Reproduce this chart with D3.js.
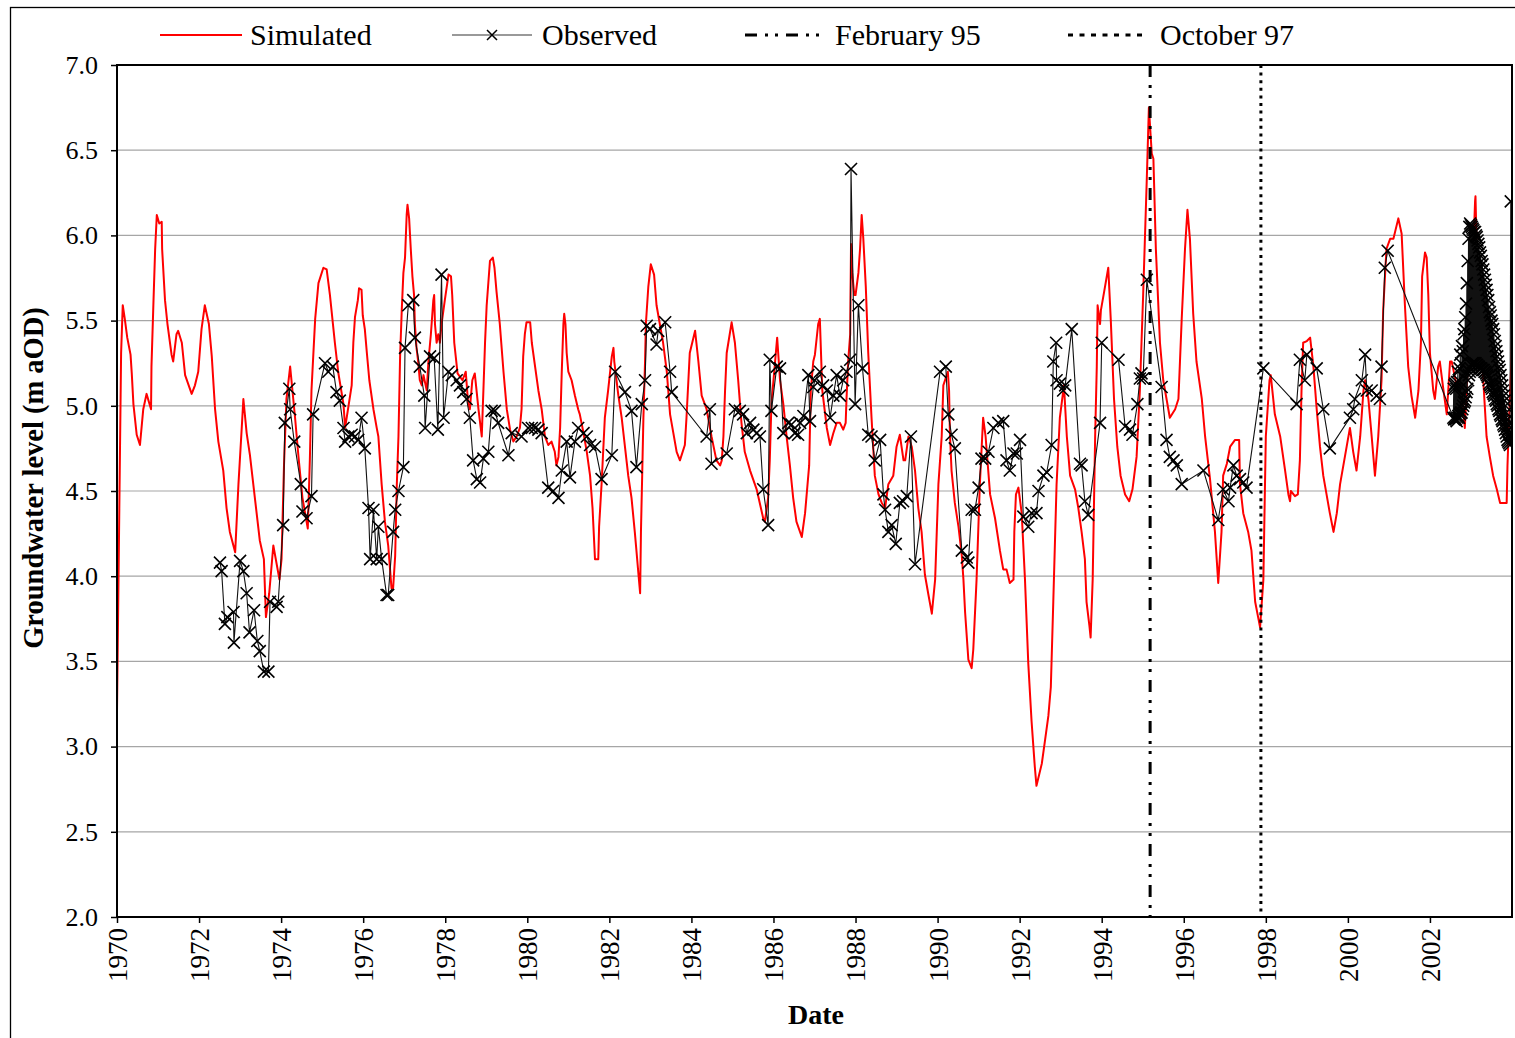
<!DOCTYPE html>
<html><head><meta charset="utf-8">
<script src="https://cdn.jsdelivr.net/npm/d3@7"></script>
<style>
body{margin:0;background:#fff}
svg{display:block}
text{font-family:"Liberation Serif","Times New Roman",serif;fill:#000}
</style>
</head><body>
<svg id="chart" width="1515" height="1038"></svg>
<script>
// ---- Data (decimal year, groundwater level m aOD) ----
const simulated = [
[1970.00,3.21],[1970.10,5.31],[1970.14,5.59],[1970.19,5.51],[1970.25,5.40],[1970.33,5.30],[1970.36,5.19],[1970.40,5.01],[1970.48,4.83],[1970.56,4.77],[1970.64,4.98],[1970.72,5.07],[1970.83,4.98],[1970.84,5.23],[1970.89,5.62],[1970.93,5.92],[1970.97,6.12],[1971.03,6.07],[1971.09,6.08],[1971.10,5.92],[1971.17,5.62],[1971.23,5.48],[1971.33,5.30],[1971.37,5.26],[1971.45,5.42],[1971.49,5.44],[1971.58,5.37],[1971.66,5.18],[1971.82,5.07],[1971.90,5.12],[1971.98,5.20],[1972.06,5.45],[1972.14,5.59],[1972.24,5.48],[1972.31,5.29],[1972.39,4.98],[1972.47,4.79],[1972.59,4.62],[1972.67,4.40],[1972.75,4.26],[1972.88,4.14],[1972.96,4.54],[1973.04,4.87],[1973.08,5.04],[1973.16,4.84],[1973.24,4.71],[1973.36,4.46],[1973.48,4.21],[1973.58,4.10],[1973.63,3.76],[1973.71,3.90],[1973.81,4.18],[1973.96,3.98],[1974.01,4.10],[1974.07,4.65],[1974.13,5.04],[1974.22,5.23],[1974.34,4.93],[1974.42,4.71],[1974.52,4.46],[1974.65,4.28],[1974.70,4.68],[1974.74,5.09],[1974.83,5.51],[1974.91,5.72],[1975.03,5.81],[1975.11,5.80],[1975.19,5.65],[1975.31,5.37],[1975.39,5.20],[1975.52,5.01],
[1975.56,4.87],[1975.72,5.12],[1975.76,5.37],[1975.80,5.52],[1975.87,5.62],[1975.90,5.69],[1975.96,5.68],[1975.99,5.53],[1976.04,5.45],[1976.09,5.31],[1976.15,5.15],[1976.25,4.98],[1976.33,4.87],[1976.37,4.82],[1976.45,4.54],[1976.53,4.32],[1976.61,4.18],[1976.69,3.93],[1976.73,3.93],[1976.78,4.12],[1976.82,4.54],[1976.86,4.82],[1976.90,5.29],[1976.94,5.56],[1976.98,5.78],[1977.02,5.87],[1977.06,6.12],[1977.08,6.18],[1977.12,6.10],[1977.16,5.92],[1977.20,5.76],[1977.24,5.65],[1977.26,5.48],[1977.30,5.34],[1977.34,5.26],[1977.38,5.15],[1977.43,5.12],[1977.47,5.18],[1977.55,5.09],[1977.59,5.26],[1977.65,5.42],[1977.71,5.62],[1977.73,5.65],[1977.75,5.48],[1977.79,5.37],[1977.83,5.42],[1977.87,5.37],[1977.91,5.48],[1977.99,5.62],[1978.08,5.77],[1978.14,5.76],[1978.17,5.65],[1978.22,5.37],[1978.30,5.19],[1978.42,5.15],[1978.50,5.20],[1978.56,5.01],[1978.60,4.98],[1978.66,5.15],[1978.72,5.19],[1978.81,4.98],[1978.89,4.82],[1978.93,5.09],[1978.97,5.37],[1979.01,5.59],[1979.09,5.85],[1979.16,5.87],[1979.20,5.81],[1979.25,5.67],[1979.33,5.48],[1979.42,5.20],[1979.50,4.98],[1979.58,4.86],[1979.66,4.79],[1979.74,4.82],[1979.82,4.87],[1979.86,4.98],[1979.90,5.29],[1979.94,5.42],[1979.98,5.49],[1980.07,5.49],[1980.11,5.37],[1980.19,5.23],[1980.27,5.09],[1980.35,4.98],[1980.43,4.82],[1980.51,4.77],[1980.59,4.79],[1980.67,4.73],[1980.71,4.65],[1980.76,4.70],[1980.80,4.87],[1980.84,5.20],[1980.88,5.48],[1980.90,5.54],[1980.93,5.48],[1980.96,5.31],[1981.00,5.20],[1981.08,5.15],[1981.16,5.06],[1981.24,4.98],
[1981.28,4.95],[1981.37,4.84],[1981.45,4.73],[1981.53,4.59],[1981.59,4.40],[1981.65,4.10],[1981.73,4.10],[1981.75,4.29],[1981.81,4.54],[1981.89,4.93],[1981.97,5.09],[1982.06,5.29],[1982.10,5.34],[1982.12,5.26],[1982.22,5.06],[1982.30,4.93],[1982.38,4.76],[1982.46,4.59],[1982.54,4.46],[1982.62,4.26],[1982.66,4.15],[1982.71,4.01],[1982.75,3.90],[1982.77,4.26],[1982.80,4.59],[1982.83,4.93],[1982.87,5.26],[1982.89,5.48],[1982.95,5.70],[1983.01,5.83],[1983.09,5.77],[1983.15,5.59],[1983.23,5.48],[1983.31,5.37],[1983.40,5.20],[1983.48,4.95],[1983.56,4.84],[1983.64,4.73],[1983.72,4.68],[1983.84,4.77],[1983.88,4.93],[1983.96,5.31],[1984.09,5.44],[1984.17,5.26],[1984.25,5.06],[1984.37,4.98],[1984.49,4.82],[1984.61,4.68],[1984.70,4.65],[1984.74,4.68],[1984.78,4.82],[1984.82,5.09],[1984.86,5.31],[1984.98,5.49],[1985.06,5.37],[1985.14,5.15],[1985.22,4.90],[1985.30,4.73],[1985.43,4.62],[1985.59,4.51],[1985.75,4.34],[1985.79,4.32],[1985.87,4.46],[1985.91,4.68],[1985.95,5.01],[1986.04,5.26],[1986.09,5.40],[1986.16,5.15],[1986.24,5.01],[1986.32,4.82],[1986.40,4.65],[1986.48,4.46],[1986.56,4.32],[1986.69,4.23],[1986.77,4.37],[1986.87,4.65],[1986.91,5.09],[1986.97,5.26],[1987.01,5.30],
[1987.09,5.48],[1987.13,5.51],[1987.19,5.09],[1987.30,4.87],[1987.38,4.77],[1987.46,4.84],[1987.54,4.90],[1987.62,4.90],[1987.70,4.86],[1987.76,4.90],[1987.78,5.04],[1987.82,5.26],[1987.87,5.42],[1987.89,5.95],[1987.92,5.78],[1987.97,5.65],[1988.00,5.65],[1988.07,5.78],[1988.11,5.92],[1988.15,6.12],[1988.19,5.98],[1988.25,5.70],[1988.31,5.31],[1988.39,4.93],[1988.47,4.59],[1988.56,4.48],[1988.64,4.43],[1988.72,4.40],[1988.80,4.54],[1988.92,4.59],[1989.00,4.76],[1989.08,4.83],[1989.17,4.68],[1989.21,4.68],[1989.29,4.82],[1989.37,4.76],[1989.45,4.62],[1989.53,4.40],[1989.61,4.26],[1989.69,4.01],[1989.77,3.90],[1989.86,3.78],[1989.94,3.98],[1989.98,4.26],[1990.02,4.54],[1990.10,4.82],[1990.14,5.12],[1990.25,5.20],[1990.28,5.09],[1990.30,4.84],[1990.34,4.62],[1990.42,4.43],[1990.51,4.29],[1990.59,4.12],[1990.63,3.98],[1990.67,3.79],[1990.75,3.51],[1990.83,3.46],[1990.87,3.57],[1990.95,3.98],[1991.03,4.54],[1991.11,4.93],[1991.17,4.82],[1991.28,4.48],[1991.40,4.34],[1991.52,4.15],[1991.60,4.04],[1991.68,4.04],[1991.76,3.96],[1991.85,3.98],[1991.87,4.26],[1991.91,4.48],[1991.97,4.52],[1992.05,4.37],[1992.13,3.98],[1992.21,3.49],[1992.29,3.15],[1992.37,2.88],[1992.41,2.77],[1992.46,2.82],[1992.54,2.90],[1992.62,3.04],[1992.70,3.18],
[1992.76,3.35],[1992.82,3.85],[1992.90,4.54],[1992.98,4.93],[1993.08,5.12],[1993.15,4.82],[1993.23,4.59],[1993.35,4.51],[1993.43,4.40],[1993.51,4.26],[1993.59,4.10],[1993.63,3.85],[1993.70,3.71],[1993.73,3.64],[1993.78,3.98],[1993.84,4.82],[1993.88,5.23],[1993.90,5.59],[1993.96,5.48],[1993.98,5.56],[1994.06,5.67],[1994.16,5.81],[1994.22,5.51],[1994.30,5.04],[1994.38,4.76],[1994.46,4.59],[1994.57,4.48],[1994.67,4.44],[1994.75,4.51],[1994.85,4.70],[1994.93,5.09],[1995.01,5.65],[1995.10,6.34],[1995.15,6.75],[1995.22,6.48],[1995.26,6.45],[1995.32,5.92],[1995.42,5.37],[1995.50,5.15],[1995.58,5.04],[1995.66,4.93],[1995.79,4.98],[1995.87,5.04],[1995.95,5.51],[1996.03,5.92],[1996.09,6.15],[1996.15,5.98],[1996.23,5.54],[1996.31,5.26],[1996.44,5.04],[1996.52,4.82],[1996.64,4.57],[1996.76,4.26],[1996.84,3.96],[1996.92,4.26],[1996.96,4.59],[1997.05,4.66],[1997.13,4.76],[1997.25,4.80],[1997.35,4.80],[1997.37,4.54],[1997.45,4.37],[1997.57,4.26],[1997.65,4.15],[1997.74,3.85],[1997.86,3.70],[1997.94,3.98],[1998.00,4.82],[1998.09,5.15],[1998.12,5.18],[1998.22,4.95],[1998.35,4.82],[1998.47,4.62],
[1998.55,4.48],[1998.59,4.44],[1998.61,4.50],[1998.71,4.47],[1998.78,4.48],[1998.83,4.68],[1998.87,5.09],[1998.91,5.37],[1999.00,5.38],[1999.08,5.40],[1999.16,5.23],[1999.24,4.98],[1999.32,4.76],[1999.40,4.59],[1999.48,4.48],[1999.56,4.37],[1999.65,4.26],[1999.73,4.37],[1999.81,4.54],[1999.89,4.65],[1999.97,4.76],[2000.05,4.87],[2000.13,4.73],[2000.21,4.62],[2000.30,4.82],[2000.38,5.09],[2000.42,5.15],[2000.50,5.04],[2000.58,4.82],[2000.66,4.59],[2000.74,4.82],[2000.82,5.15],[2000.86,5.56],[2000.94,5.92],[2001.03,5.98],[2001.11,5.98],[2001.23,6.10],[2001.31,6.01],[2001.39,5.59],[2001.47,5.23],[2001.55,5.06],[2001.64,4.93],[2001.72,5.09],[2001.78,5.37],[2001.81,5.76],[2001.88,5.90],[2001.92,5.87],[2001.96,5.65],[2002.00,5.31],[2002.08,5.09],[2002.12,5.04],[2002.20,5.23],[2002.24,5.26],[2002.33,5.09],[2002.41,4.95],[2002.49,5.26],[2002.53,5.26],[2002.65,5.12],[2002.69,5.04],[2002.77,5.09],[2002.85,4.87],[2002.93,5.26],[2003.02,5.65],[2003.10,6.20],[2003.11,6.23],[2003.14,5.92],[2003.22,5.48],[2003.30,5.15],[2003.38,4.82],[2003.46,4.70],[2003.54,4.59],[2003.63,4.51],[2003.71,4.43],[2003.83,4.43],[2003.87,4.43],[2003.89,4.65],[2003.93,4.93],[2003.98,5.23],[2004.00,5.40]
];

const observed = [
[1972.51,4.08],[1972.55,4.03],[1972.63,3.72],[1972.69,3.76],[1972.84,3.79],[1972.85,3.61],[1973.00,4.09],[1973.08,4.03],[1973.16,3.90],[1973.23,3.67],[1973.34,3.80],[1973.42,3.62],[1973.48,3.56],[1973.58,3.44],[1973.69,3.44],[1973.73,3.85],[1973.89,3.82],[1973.93,3.85],[1974.05,4.30],[1974.09,4.90],[1974.20,5.10],[1974.22,4.98],[1974.32,4.79],[1974.48,4.54],[1974.52,4.38],[1974.62,4.34],[1974.74,4.47],[1974.78,4.95],[1975.07,5.25],[1975.15,5.20],[1975.26,5.23],[1975.35,5.08],[1975.43,5.03],[1975.52,4.87],[1975.56,4.79],
[1975.64,4.82],[1975.72,4.83],[1975.80,4.82],[1975.88,4.80],[1975.96,4.93],[1976.04,4.75],[1976.13,4.40],[1976.17,4.10],[1976.25,4.39],[1976.33,4.10],[1976.37,4.29],[1976.45,4.10],[1976.57,3.89],[1976.61,3.89],[1976.73,4.26],[1976.78,4.39],[1976.86,4.50],[1976.98,4.64],[1977.02,5.34],[1977.10,5.59],[1977.22,5.62],[1977.26,5.40],[1977.38,5.23],[1977.49,5.06],[1977.51,4.87],[1977.63,5.29],[1977.73,5.28],[1977.82,4.86],[1977.91,5.77],[1977.96,4.93],[1978.08,5.20],[1978.16,5.18],[1978.28,5.15],[1978.36,5.12],[1978.44,5.08],[1978.52,5.04],[1978.60,4.93],[1978.68,4.68],[1978.77,4.57],[1978.85,4.55],[1978.93,4.69],[1979.05,4.73],[1979.13,4.97],[1979.21,4.97],[1979.29,4.90],[1979.54,4.71],[1979.62,4.84],[1979.86,4.82],[1980.02,4.87],[1980.11,4.87],[1980.19,4.87],[1980.27,4.86],[1980.35,4.84],[1980.51,4.52],[1980.63,4.50],[1980.76,4.46],[1980.84,4.62],[1980.96,4.79],[1981.04,4.58],[1981.16,4.79],[1981.24,4.87],
[1981.37,4.84],[1981.45,4.82],[1981.53,4.77],[1981.65,4.76],[1981.81,4.57],[1982.06,4.71],[1982.14,5.20],[1982.38,5.08],[1982.54,4.97],[1982.66,4.64],[1982.79,5.01],[1982.87,5.15],[1982.91,5.47],[1982.99,5.45],[1983.15,5.36],[1983.19,5.44],[1983.36,5.49],[1983.48,5.20],[1983.52,5.08],[1984.37,4.82],[1984.45,4.98],[1984.49,4.66],[1984.86,4.72],[1985.06,4.98],[1985.18,4.97],[1985.26,4.95],[1985.35,4.84],[1985.43,4.90],[1985.51,4.86],[1985.59,4.84],[1985.67,4.82],[1985.75,4.51],[1985.87,4.30],[1985.91,5.27],[1985.95,4.97],[1986.08,5.23],[1986.16,5.22],[1986.24,4.84],[1986.36,4.90],[1986.44,4.89],[1986.52,4.84],[1986.60,4.83],[1986.65,4.90],[1986.73,4.94],[1986.85,5.18],[1986.89,4.91],[1986.97,5.11],
[1987.01,5.15],[1987.13,5.20],[1987.21,5.12],[1987.30,5.09],[1987.38,4.93],[1987.46,5.06],[1987.54,5.18],[1987.62,5.06],[1987.70,5.15],[1987.78,5.20],[1987.87,5.27],[1987.89,6.39],[1987.99,5.01],[1988.07,5.59],[1988.17,5.22],[1988.31,4.83],[1988.39,4.82],[1988.47,4.68],[1988.60,4.80],[1988.68,4.48],[1988.72,4.39],[1988.80,4.26],[1988.88,4.30],[1988.98,4.19],[1989.08,4.43],[1989.16,4.44],[1989.25,4.47],[1989.35,4.82],[1989.45,4.07],[1990.06,5.20],[1990.20,5.23],[1990.26,4.95],[1990.34,4.83],[1990.42,4.75],[1990.59,4.15],[1990.71,4.11],[1990.75,4.08],[1990.83,4.39],[1990.91,4.39],[1991.00,4.52],[1991.07,4.69],[1991.16,4.69],[1991.24,4.73],[1991.36,4.87],[1991.48,4.90],[1991.60,4.91],[1991.68,4.68],[1991.76,4.62],[1991.85,4.72],[1991.93,4.72],[1992.01,4.80],[1992.09,4.35],[1992.21,4.29],[1992.29,4.37],[1992.41,4.37],[1992.46,4.50],[1992.58,4.59],[1992.66,4.61],
[1992.78,4.77],[1992.82,5.26],[1992.89,5.37],[1992.90,5.15],[1992.98,5.13],[1993.06,5.09],[1993.11,5.12],[1993.27,5.45],[1993.47,4.66],[1993.51,4.65],[1993.59,4.44],[1993.67,4.36],[1993.96,4.90],[1994.00,5.37],[1994.41,5.27],[1994.57,4.88],[1994.69,4.86],[1994.75,4.83],[1994.87,5.01],[1994.93,5.16],[1994.97,5.19],[1995.01,5.16],[1995.10,5.74],[1995.46,5.11],[1995.58,4.80],[1995.66,4.70],[1995.75,4.68],[1995.83,4.65],[1995.95,4.54],[1996.48,4.62],[1996.84,4.33],[1996.96,4.51],[1997.09,4.44],[1997.13,4.52],[1997.21,4.65],[1997.29,4.59],[1997.37,4.57],[1997.45,4.55],[1997.53,4.52],[1997.94,5.22],
[1998.75,5.01],[1998.83,5.27],[1998.95,5.15],[1999.00,5.30],[1999.24,5.22],[1999.40,4.98],[1999.56,4.75],[2000.05,4.93],[2000.13,4.98],[2000.17,5.04],[2000.34,5.15],[2000.42,5.30],[2000.46,5.09],[2000.58,5.09],[2000.70,5.06],[2000.78,5.04],[2000.82,5.23],[2000.90,5.81],[2000.97,5.91],
[2002.57,4.93],[2002.58,5.10],[2002.59,4.92],[2002.60,5.12],[2002.61,4.93],[2002.62,5.13],[2002.63,4.92],[2002.64,5.10],[2002.65,4.91],[2002.66,5.14],[2002.67,4.93],[2002.68,5.20],[2002.69,4.94],[2002.70,5.15],[2002.71,4.93],[2002.72,5.22],[2002.73,4.95],[2002.74,5.30],[2002.75,4.96],[2002.76,5.25],[2002.77,4.96],[2002.78,5.35],[2002.79,4.98],[2002.80,5.32],
[2002.81,5.00],[2002.82,5.42],[2002.83,5.02],[2002.84,5.45],[2002.85,5.03],[2002.86,5.52],[2002.87,5.05],[2002.88,5.60],[2002.89,5.08],[2002.90,5.72],[2002.91,5.10],[2002.92,5.85],[2002.93,5.15],[2002.94,5.98],[2002.95,5.18],[2002.96,6.05],[2002.97,5.20],[2002.98,6.07],[2002.99,5.22],[2003.00,6.06],[2003.01,5.24],[2003.02,6.05],[2003.03,5.25],[2003.04,6.04],[2003.05,5.25],[2003.06,6.03],[2003.07,5.25],[2003.08,6.02],
[2003.09,5.25],[2003.10,6.02],[2003.11,5.25],[2003.12,6.00],[2003.13,5.24],[2003.14,5.99],[2003.15,5.24],[2003.16,5.97],[2003.17,5.23],[2003.18,5.95],[2003.19,5.23],[2003.20,5.93],[2003.21,5.22],[2003.22,5.90],[2003.23,5.22],[2003.24,5.88],[2003.25,5.22],[2003.26,5.85],[2003.27,5.21],[2003.28,5.83],[2003.29,5.21],[2003.30,5.80],[2003.31,5.21],[2003.32,5.77],[2003.33,5.20],[2003.34,5.74],[2003.35,5.20],[2003.36,5.71],[2003.37,5.19],[2003.38,5.68],[2003.39,5.18],[2003.40,5.65],[2003.41,5.17],[2003.42,5.62],[2003.43,5.15],[2003.44,5.58],[2003.45,5.13],[2003.46,5.55],[2003.47,5.12],[2003.48,5.53],[2003.49,5.11],[2003.50,5.50],[2003.51,5.10],[2003.52,5.48],[2003.53,5.08],[2003.54,5.45],[2003.55,5.07],[2003.56,5.42],[2003.57,5.06],[2003.58,5.38],[2003.59,5.04],[2003.60,5.35],[2003.61,5.03],[2003.62,5.32],[2003.63,5.01],[2003.64,5.29],[2003.65,5.00],[2003.66,5.26],[2003.67,4.98],[2003.68,5.23],[2003.69,4.97],[2003.70,5.21],[2003.71,4.95],[2003.72,5.18],[2003.73,4.94],[2003.74,5.15],[2003.75,4.92],[2003.76,5.12],[2003.77,4.91],[2003.78,5.09],[2003.79,4.89],[2003.80,5.06],[2003.81,4.88],[2003.82,5.03],[2003.83,4.86],[2003.84,5.00],[2003.85,4.84],[2003.86,4.96],[2003.87,4.82],[2003.88,4.92],[2003.89,4.80],[2003.90,4.89],[2003.91,4.79],[2003.92,4.86],[2003.93,4.78],[2003.94,4.83],[2003.95,4.77],[2003.97,6.20]
];

const eventNames = ["February 95", "October 97"];
const eventDates = [1995.18, 1997.88];
const yTickValues = [2.0, 2.5, 3.0, 3.5, 4.0, 4.5, 5.0, 5.5, 6.0, 6.5, 7.0];
const xTickValues = [1970,1972,1974,1976,1978,1980,1982,1984,1986,1988,1990,1992,1994,1996,1998,2000,2002];
const legendLabels = ["Simulated", "Observed", "February 95", "October 97"];
const xTitle = "Date";
const yTitle = "Groundwater level (m aOD)";

// ---- Layout ----
const plot = {left:117, right:1512, top:65, bottom:917};
const svg = d3.select("#chart");
const x = d3.scaleLinear().domain([1970, 2004]).range([plot.left, plot.right]);
const y = d3.scaleLinear().domain([2, 7]).range([plot.bottom, plot.top]);

// outer frame
svg.append("rect").attr("x",10.5).attr("y",7.5).attr("width",1530).attr("height",1050)
  .attr("fill","none").attr("stroke","#000").attr("stroke-width",1.3);

// gridlines
svg.append("g").selectAll("line").data(yTickValues.filter(v => v > 2 && v < 7)).join("line")
  .attr("x1",plot.left).attr("x2",plot.right)
  .attr("y1",d=>y(d)).attr("y2",d=>y(d))
  .attr("stroke","#a6a6a6").attr("stroke-width",1.2);

svg.append("clipPath").attr("id","clip").append("rect")
  .attr("x",plot.left).attr("y",plot.top).attr("width",plot.right-plot.left).attr("height",plot.bottom-plot.top);

const gPlot = svg.append("g").attr("clip-path","url(#clip)");

const line = d3.line().x(d=>x(d[0])).y(d=>y(d[1]));

// simulated line (drawn first, observed on top)
gPlot.append("path").datum(simulated).attr("d",line)
  .attr("fill","none").attr("stroke","#ff0000").attr("stroke-width",2).attr("stroke-linejoin","round");

// observed line
gPlot.append("path").datum(observed).attr("d",line)
  .attr("fill","none").attr("stroke","#111").attr("stroke-width",1.1);

// observed markers
const crossPath = "M-6,-6L6,6M-6,6L6,-6";
gPlot.append("g").selectAll("path").data(observed).join("path")
  .attr("transform",d=>`translate(${x(d[0])},${y(d[1])})`)
  .attr("d",crossPath).attr("stroke","#000").attr("stroke-width",1.6).attr("fill","none");

// event lines
const eventDash = ["12,8,3,7,3,8", "3,4.6"];
svg.append("g").selectAll("line").data(eventDates).join("line")
  .attr("x1",d=>x(d)).attr("x2",d=>x(d)).attr("y1",plot.top).attr("y2",plot.bottom)
  .attr("stroke","#000").attr("stroke-width",3)
  .attr("stroke-dasharray",(d,i)=>eventDash[i]);

// plot border
svg.append("rect").attr("x",plot.left).attr("y",plot.top)
  .attr("width",plot.right-plot.left).attr("height",plot.bottom-plot.top)
  .attr("fill","none").attr("stroke","#000").attr("stroke-width",2);

// y axis
const yAxis = svg.append("g").attr("transform",`translate(${plot.left},0)`)
  .call(d3.axisLeft(y).tickValues(yTickValues).tickFormat(d3.format(".1f")).tickSize(6).tickPadding(13));
yAxis.attr("font-family",null);
yAxis.select(".domain").remove();
yAxis.selectAll("line").attr("stroke","#000").attr("stroke-width",1.5);
yAxis.selectAll("text").attr("font-size",26).attr("font-family","Liberation Serif");

// x axis
const xAxis = svg.append("g").attr("transform",`translate(0,${plot.bottom})`)
  .call(d3.axisBottom(x).tickValues(xTickValues).tickFormat(d3.format("d")).tickSize(6));
xAxis.attr("font-family",null);
xAxis.select(".domain").remove();
xAxis.selectAll("line").attr("stroke","#000").attr("stroke-width",1.5);
xAxis.selectAll("text").attr("font-size",27).attr("font-family","Liberation Serif")
  .attr("transform","rotate(-90)").attr("text-anchor","end")
  .attr("x",-11).attr("y",0).attr("dy","0.35em");

// titles
svg.append("text").attr("x",816).attr("y",1024).attr("text-anchor","middle")
  .attr("font-size",28).attr("font-weight","bold").text(xTitle);
svg.append("text").attr("transform","translate(43,478) rotate(-90)").attr("text-anchor","middle")
  .attr("font-size",28.5).attr("font-weight","bold").text(yTitle);

// legend
const lg = svg.append("g");
const ly = 35;
lg.append("line").attr("x1",160).attr("x2",242).attr("y1",ly).attr("y2",ly).attr("stroke","#ff0000").attr("stroke-width",2);
lg.append("text").attr("x",250).attr("y",45).attr("font-size",30).text(legendLabels[0]);
lg.append("line").attr("x1",452).attr("x2",532).attr("y1",ly).attr("y2",ly).attr("stroke","#777").attr("stroke-width",1.5);
lg.append("path").attr("transform",`translate(492,${ly})`).attr("d","M-5,-5L5,5M-5,5L5,-5").attr("stroke","#000").attr("stroke-width",1.5);
lg.append("text").attr("x",542).attr("y",45).attr("font-size",30).text(legendLabels[1]);
lg.append("line").attr("x1",745).attr("x2",822).attr("y1",ly).attr("y2",ly).attr("stroke","#000").attr("stroke-width",3).attr("stroke-dasharray","12,8,3,7,3,8");
lg.append("text").attr("x",835).attr("y",45).attr("font-size",30).text(legendLabels[2]);
lg.append("line").attr("x1",1068).attr("x2",1148).attr("y1",ly).attr("y2",ly).attr("stroke","#000").attr("stroke-width",3).attr("stroke-dasharray","5,6.5");
lg.append("text").attr("x",1160).attr("y",45).attr("font-size",30).text(legendLabels[3]);
</script>
</body></html>
